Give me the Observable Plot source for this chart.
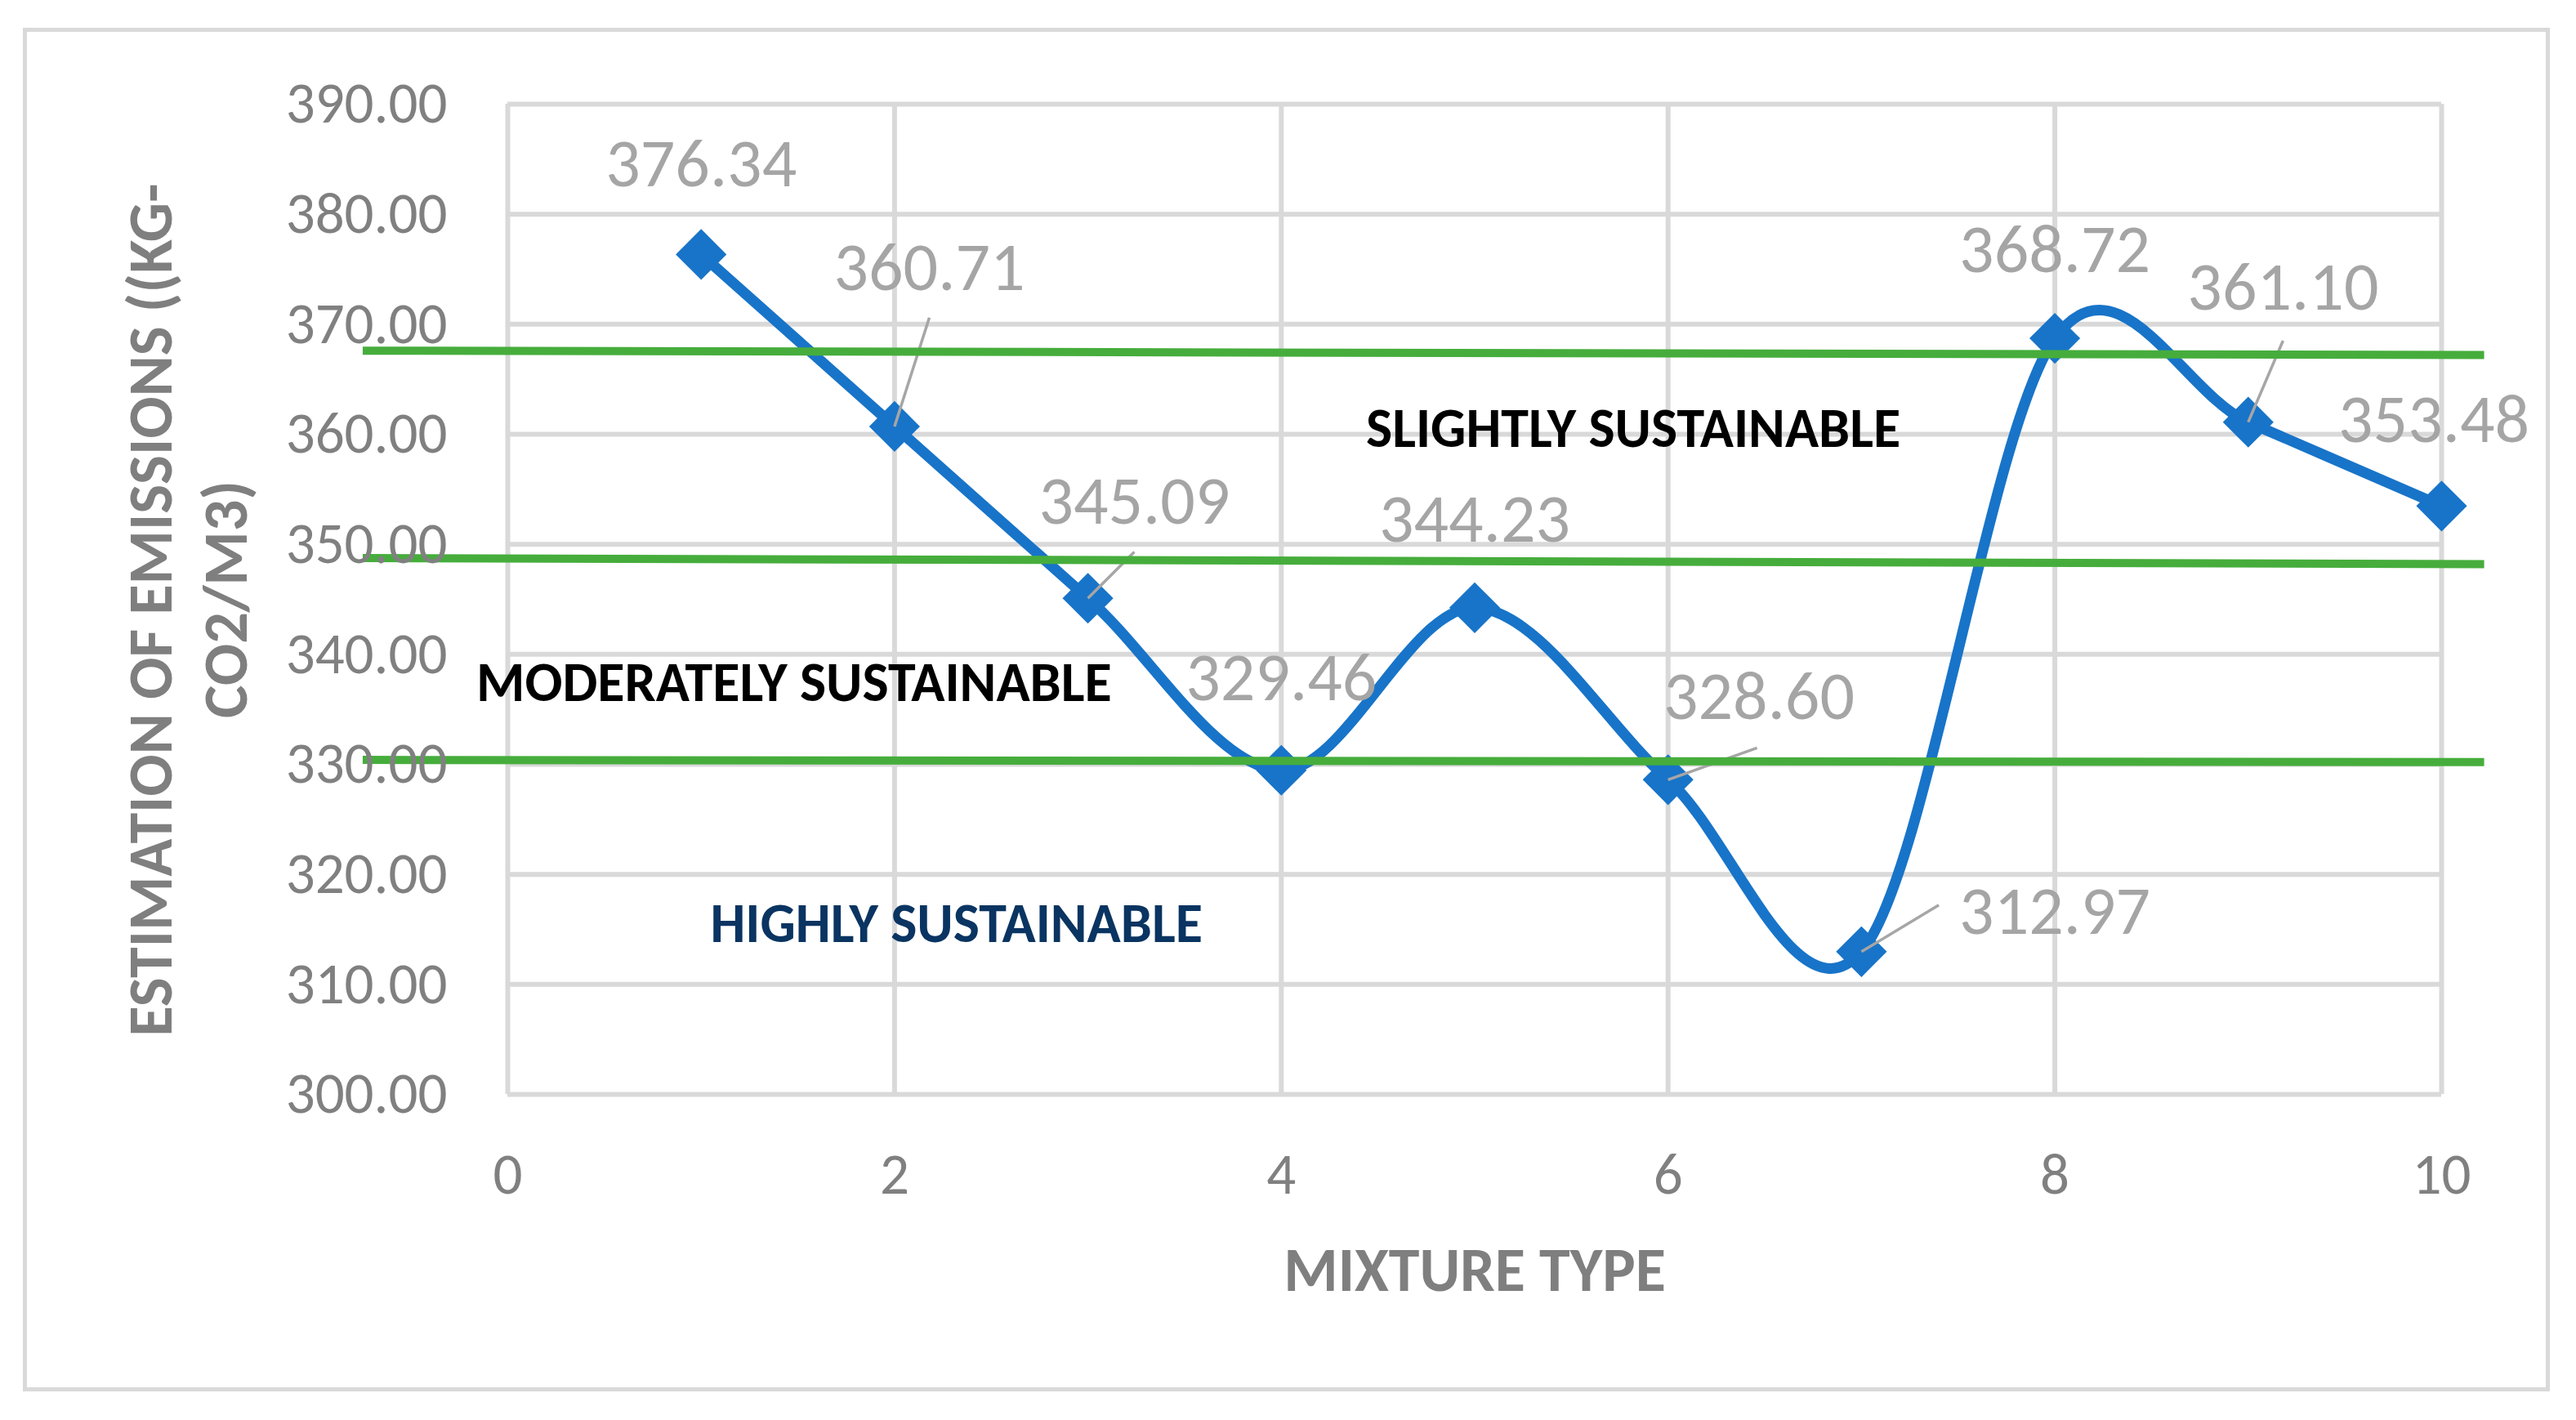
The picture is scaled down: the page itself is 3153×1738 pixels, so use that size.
<!DOCTYPE html>
<html><head><meta charset="utf-8">
<script src="https://cdn.jsdelivr.net/npm/d3@7"></script>
<script src="https://cdn.jsdelivr.net/npm/@observablehq/plot@0.6"></script>
<style>
html,body{margin:0;padding:0;background:#fff;}
#wrap{position:relative;width:3153px;height:1738px;overflow:hidden;}
#chart{position:absolute;left:0;top:0;}
#border{position:absolute;left:28px;top:34px;width:3093px;height:1669px;border:5px solid #d9d9d9;box-sizing:border-box;pointer-events:none;z-index:2;}
</style></head><body>
<div id="wrap"><div id="chart"></div><div id="border"></div></div>
<script>
// ---- data ----
const mixture = [1, 2, 3, 4, 5, 6, 7, 8, 9, 10];
const emissions = [376.34, 360.71, 345.09, 329.46, 344.23, 328.60, 312.97, 368.72, 361.10, 353.48];
const xTicks = [0, 2, 4, 6, 8, 10];
const yTicks = [300, 310, 320, 330, 340, 350, 360, 370, 380, 390];
// data-label anchors (data units)
const labelX = [1.00, 2.18, 3.24, 4.00, 5.00, 6.47, 8.00, 8.00, 9.18, 9.96];
const labelY = [384.5, 375.1, 353.9, 337.8, 352.2, 336.1, 316.6, 376.7, 373.3, 361.3];
// leader line ends (data units), null = no leader
const leaderX = [null, 2.18, 3.24, null, null, 6.46, 7.40, null, 9.18, null];
const leaderY = [null, 370.6, 349.3, null, null, 331.5, 317.2, null, 368.5, null];
// sustainability zones
const zoneNames = ["SLIGHTLY SUSTAINABLE", "MODERATELY SUSTAINABLE", "HIGHLY SUSTAINABLE"];
const zoneX = [5.82, 1.48, 2.32];
const zoneY = [360.5, 337.4, 315.5];
const zoneColors = ["#000000", "#000000", "#0a3461"];
// boundary lines between zones
const boundaryLeftY = [367.6, 348.75, 330.4];
const boundaryRightY = [367.2, 348.2, 330.2];
const boundaryFromX = -0.75;
const boundaryToX = 10.22;
const xTitle = "MIXTURE TYPE";
const yTitleLines = ["ESTIMATION OF EMISSIONS ((KG-", "CO2/M3)"];

// ---- tables built from arrays ----
const points = mixture.map((m, i) => ({x: m, y: emissions[i], lx: labelX[i], ly: labelY[i],
  label: emissions[i].toFixed(2)}));
const leaders = [];
mixture.forEach((m, i) => {
  if (leaderX[i] != null) {
    leaders.push({x1: m, y1: emissions[i], x2: leaderX[i], y2: leaderY[i]});
  }
});
const boundaries = boundaryLeftY.map((v, i) => ({x1: boundaryFromX, y1: v, x2: boundaryToX, y2: boundaryRightY[i]}));
const zones = zoneNames.map((n, i) => ({name: n, x: zoneX[i], y: zoneY[i], color: zoneColors[i]}));

const BLUE = "#1874c8";
const GRID = "#d9d9d9";
const FONT = "Carlito, Lato, 'Open Sans', sans-serif";

const chart = Plot.plot({
  width: 3153,
  height: 1738,
  marginLeft: 621,
  marginRight: 165,
  marginTop: 127,
  marginBottom: 399,
  style: {fontFamily: FONT, background: "transparent"},
  x: {domain: [0, 10], axis: null},
  y: {domain: [300, 390], axis: null},
  marks: [
    Plot.ruleY(yTicks, {y: d => d, stroke: GRID, strokeWidth: 6}),
    Plot.ruleX(xTicks, {x: d => d, stroke: GRID, strokeWidth: 6}),
    Plot.line(points, {x: "x", y: "y", curve: "cardinal", stroke: BLUE, strokeWidth: 13}),
    Plot.dot(points, {x: "x", y: "y", symbol: "diamond2", r: 28, fill: BLUE, stroke: "none"}),
    Plot.link(leaders, {x1: "x1", y1: "y1", x2: "x2", y2: "y2", stroke: "#a6a6a6", strokeWidth: 3.5}),
    Plot.text(points, {x: "lx", y: "ly", text: "label", fill: "#a5a5a5", fontSize: 84, fontWeight: 300}),
    Plot.link(boundaries, {x1: "x1", y1: "y1", x2: "x2", y2: "y2", stroke: "#46ad3c", strokeWidth: 10}),
    Plot.text(zones, {x: "x", y: "y", text: "name", fill: d => d.color, fontSize: 68, fontWeight: "bold"}),
    // tick labels
    Plot.text(yTicks, {y: d => d, text: d => d.toFixed(2), frameAnchor: "left", textAnchor: "end", lineAnchor: "middle", dx: -74, fill: "#808080", fontSize: 71, fontWeight: 300}),
    Plot.text(xTicks, {x: d => d, text: d => String(d), frameAnchor: "bottom", lineAnchor: "middle", dy: 99, fill: "#808080", fontSize: 71, fontWeight: 300, letterSpacing: "0.12em"}),
    // axis titles
    Plot.text([xTitle], {text: d => d, frameAnchor: "bottom", lineAnchor: "middle", dy: 216, fill: "#7f7f7f", fontSize: 76, fontWeight: "bold"}),
    Plot.text([yTitleLines[0]], {text: d => d, frameAnchor: "left", textAnchor: "middle", lineAnchor: "middle", dx: -436, dy: 13, rotate: -90, fill: "#7f7f7f", fontSize: 76, fontWeight: "bold"}),
    Plot.text([yTitleLines[1]], {text: d => d, frameAnchor: "left", textAnchor: "middle", lineAnchor: "middle", dx: -344, rotate: -90, fill: "#7f7f7f", fontSize: 76, fontWeight: "bold"})
  ]
});
document.getElementById("chart").appendChild(chart);
</script>
</body></html>
